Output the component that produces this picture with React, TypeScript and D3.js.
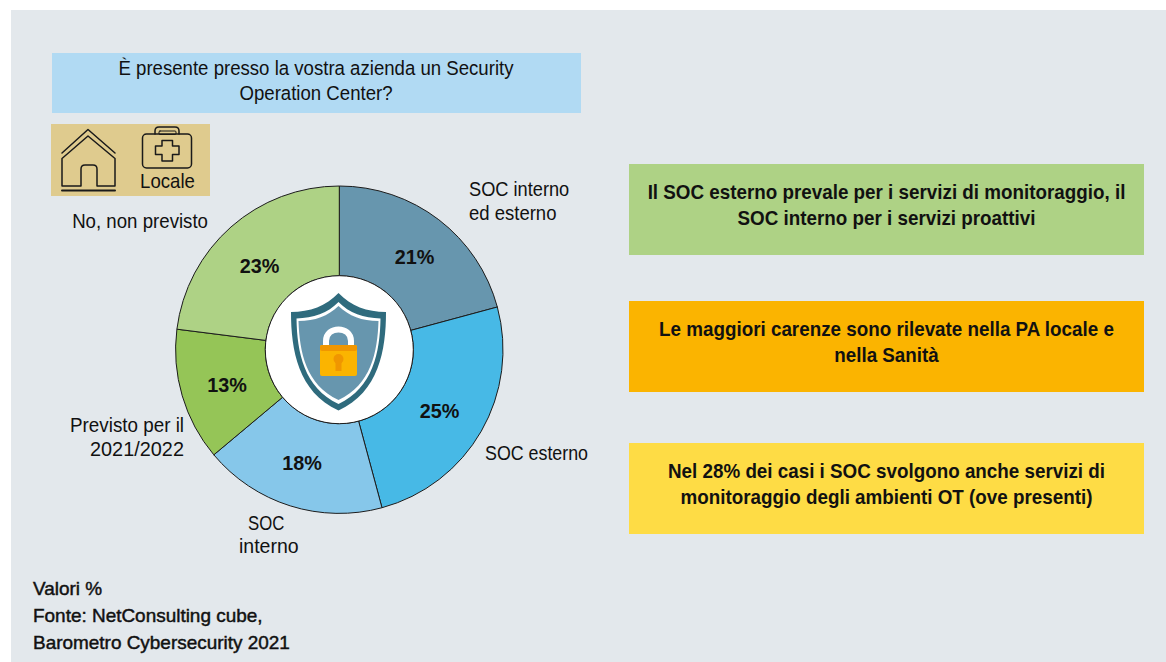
import React from "react";
import * as d3 from "d3";

const categories = ["SOC interno ed esterno", "SOC esterno", "SOC interno", "Previsto per il 2021/2022", "No, non previsto"];
const values = [20.8, 25, 18.1, 13.1, 23];
const sliceColors = ["#6796ae", "#47b9e6", "#86c7ea", "#95c557", "#aed285"];
const titleLines = ["È presente presso la vostra azienda un Security", "Operation Center?"];
const noteLines = ["Valori %", "Fonte: NetConsulting cube,", "Barometro Cybersecurity 2021"];
const calloutTexts = [
  ["Il SOC esterno prevale per i servizi di monitoraggio, il", "SOC interno per i servizi proattivi"],
  ["Le maggiori carenze sono rilevate nella PA locale e", "nella Sanità"],
  ["Nel 28% dei casi i SOC svolgono anche servizi di", "monitoraggio degli ambienti OT (ove presenti)"],
];
const calloutColors = ["#aed285", "#fbb400", "#fedc45"];

const FONT = "'Liberation Sans', Arial, sans-serif";
const cx = 339.3, cy = 349.7, R = 163.7, r = 74;
const labelNudge = [[3, 2], [-3, 2], [-1.5, 0], [2, 2], [-1, 6]];

// Condensed text: horizontal squeeze of Liberation Sans
function T({ x, y, children, size = 19.5, weight = 400, anchor = "start", sx = 0.95, stroke = 0 }: any) {
  return (
    <text transform={`translate(${x},${y}) scale(${sx},1)`} fontSize={size} fontWeight={weight} textAnchor={anchor} fontFamily={FONT} fill="#111" stroke={stroke ? "#111" : "none"} strokeWidth={stroke}>
      {children}
    </text>
  );
}

export default function App() {
  const pie = d3.pie<number>().sort(null).startAngle(0).endAngle(2 * Math.PI);
  const arc = d3.arc<d3.PieArcDatum<number>>().outerRadius(R).innerRadius(r);
  const labelArc = d3.arc<d3.PieArcDatum<number>>().outerRadius(119).innerRadius(119);
  const arcs = pie(values);
  return (
    <svg width={1166} height={662} style={{ position: "absolute", left: 0, top: 0 }}>
      <rect x={0} y={0} width={1166} height={662} fill="#fff" />
      <rect x={11} y={10} width={1155} height={652} fill="#e3e8ec" />

      <rect x={52} y={53} width={529} height={60} fill="#b1daf3" />
      <T x={316} y={75} anchor="middle" sx={0.955}>{titleLines[0]}</T>
      <T x={316} y={100} anchor="middle" sx={0.955}>{titleLines[1]}</T>

      <rect x={51} y={124} width={159} height={72} fill="#dfcb8e" />
      <g fill="none" stroke="#1a1a1a" strokeWidth={1.5} strokeLinejoin="round" strokeLinecap="round">
        <path d="M62,153 L88,129.500 L115,153" />
        <path d="M62,158.500 L88,136 L115,158.500 V186 H97 V169 Q97,165 93,165 H85 Q81,165 81,169 V186 H62 Z" />
        <path d="M62,190.500 H115" strokeWidth={2} />
        <rect x={142.500} y={134} width={49} height={34} rx={4} />
        <path d="M155,134 V131 Q155,127 159,127 H175 Q179,127 179,131 V134" />
        <rect x={159} y={131} width={17} height={3.500} rx={1} strokeWidth={1} />
        <path d="M162,140.500 H172.500 V146 H179 V154.500 H172.500 V161 H162 V154.500 H155.500 V146 H162 Z" />
      </g>
      <T x={167.500} y={188} anchor="middle" size={20} sx={0.93}>Locale</T>

      <g>
        {arcs.map((a, i) => (
          <path key={categories[i]} d={arc(a) ?? ""} transform={`translate(${cx},${cy})`} fill={sliceColors[i]} stroke="#1c1c1c" strokeWidth={1} />
        ))}
        {arcs.map((a, i) => {
          const [x, y] = labelArc.centroid(a);
          return (
            <T key={a.index} x={cx + x + labelNudge[i][0]} y={cy + y + 7 + labelNudge[i][1]} anchor="middle" weight={700} size={20} sx={0.99}>
              {Math.round(a.value)}%
            </T>
          );
        })}
      </g>
      <circle cx={cx} cy={cy} r={r} fill="#fff" stroke="#1c1c1c" strokeWidth={1} />

      <g>
        <path d="M338.500,293 C326,306 310,312 291,312 C291,350 298,392 338.500,410.500 C379,392 386,350 386,312 C367,312 351,306 338.500,293 Z" fill="#2f6b7d" />
        <path d="M338.500,302 C328,313 313,318 296.500,318.500 C297,352 304,388 338.500,404 C373,388 380,352 380.500,318.500 C364,318 349,313 338.500,302 Z" fill="#fff" />
        <path d="M338.500,306 C328,316 315,321 298.500,321 C299.500,352 306,385 338.500,400 C371,385 377.500,352 378.500,321 C362,321 349,316 338.500,306 Z" fill="#6796ae" />
        <path d="M326,349 V341 C326,325.500 351,325.500 351,341 V349" fill="none" stroke="#fff" strokeWidth={6} />
        <rect x={320} y={345} width={37} height={31} rx={2} fill="#fbb400" />
        <rect x={320} y={345} width={37} height={6} rx={2} fill="#f09600" />
        <circle cx={338.500} cy={359} r={5} fill="#f09600" />
        <rect x={335.500} y={360} width={6} height={11} fill="#f09600" />
      </g>

      <T x={469} y={196} sx={0.935}>SOC interno</T>
      <T x={469} y={220} sx={0.95}>ed esterno</T>
      <T x={208} y={228} anchor="end" sx={0.957}>No, non previsto</T>
      <T x={485} y={460} sx={0.915}>SOC esterno</T>
      <T x={184} y={432} anchor="end" sx={0.965}>Previsto per il</T>
      <T x={184} y={456} anchor="end" sx={1.02}>2021/2022</T>
      <T x={248} y={530} sx={0.86}>SOC</T>
      <T x={239} y={553} sx={1}>interno</T>

      {calloutTexts.map((lines, i) => {
        const y = [164, 301, 443][i];
        return (
          <g key={i}>
            <rect x={629} y={y} width={515} height={91} fill={calloutColors[i]} />
            <T x={886.500} y={y + 34.500} anchor="middle" weight={700} sx={0.965}>{lines[0]}</T>
            <T x={886.500} y={y + 60.500} anchor="middle" weight={700} sx={0.965}>{lines[1]}</T>
          </g>
        );
      })}

      {noteLines.map((l, i) => (
        <T key={l} x={33} y={595 + i * 27} size={18.500} sx={1.024} stroke={0.45}>{l}</T>
      ))}
    </svg>
  );
}
